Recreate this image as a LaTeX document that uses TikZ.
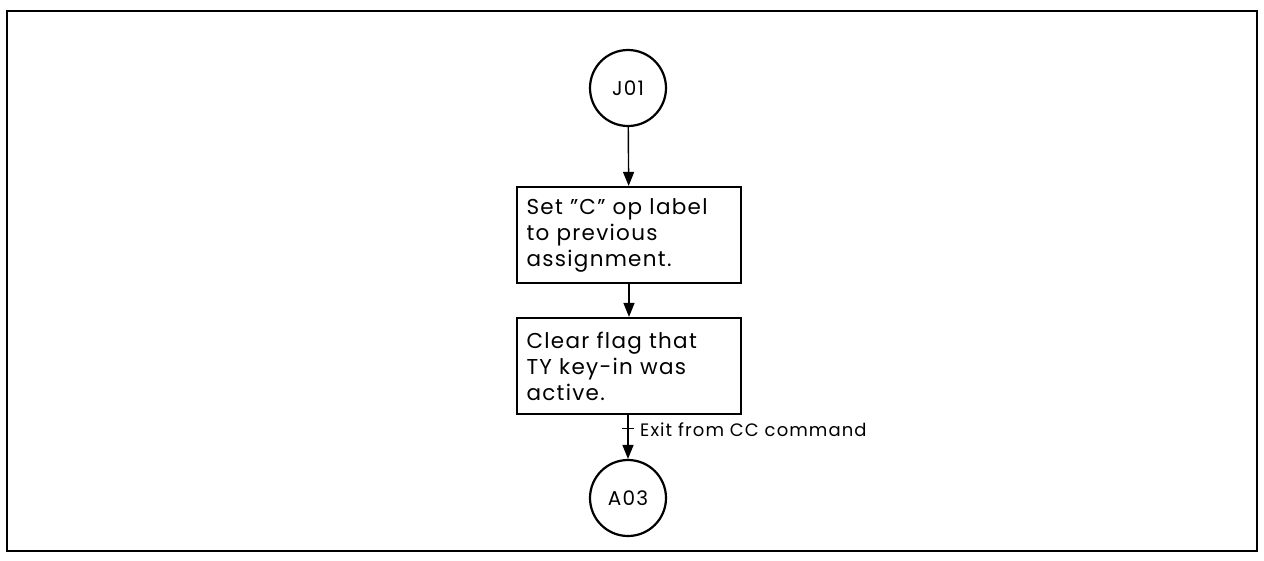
\documentclass[tikz,border=0pt]{standalone}
\usepackage{fontspec}
\setmainfont{Poppins}[LetterSpace=6]
\usetikzlibrary{arrows.meta}
\begin{document}
\begin{tikzpicture}[x=1pt,y=-1pt,
  every node/.style={inner sep=0pt},
  conn/.style={circle,draw,line width=2.2pt,minimum size=76pt,font=\fontsize{20}{22}\selectfont},
  procbox/.style={draw,line width=2.2pt,minimum width=224pt,minimum height=96pt,text width=205pt,align=left,font=\fontsize{21.5}{26}\selectfont},
  flow/.style={line width=1.4pt,-{Triangle[length=14pt,width=11pt]}}]
\useasboundingbox (0,0) rectangle (1264,560);
\draw[line width=2.4pt] (7,11) rectangle (1257,551);
\node[conn] (j01) at (628,88) {J01};
\node[procbox] (b1) at (629,235) {Set "C" op label\\to previous\\assignment.};
\node[procbox] (b2) at (629,366) {Clear flag that\\TY key-in was\\active.};
\node[conn] (a03) at (628,498) {A03};
\draw[flow] (j01) -- (b1);
\draw[flow] (b1) -- (b2);
\draw[flow] (b2.south -| a03) -- (a03);
\coordinate (tk) at (628,428);
\draw[line width=1pt] ([xshift=-6pt]tk) -- ([xshift=6pt]tk);
\node[anchor=west,font=\fontsize{18}{20}\selectfont] (ex) at (640,430) {Exit from CC command};
\end{tikzpicture}
\end{document}
